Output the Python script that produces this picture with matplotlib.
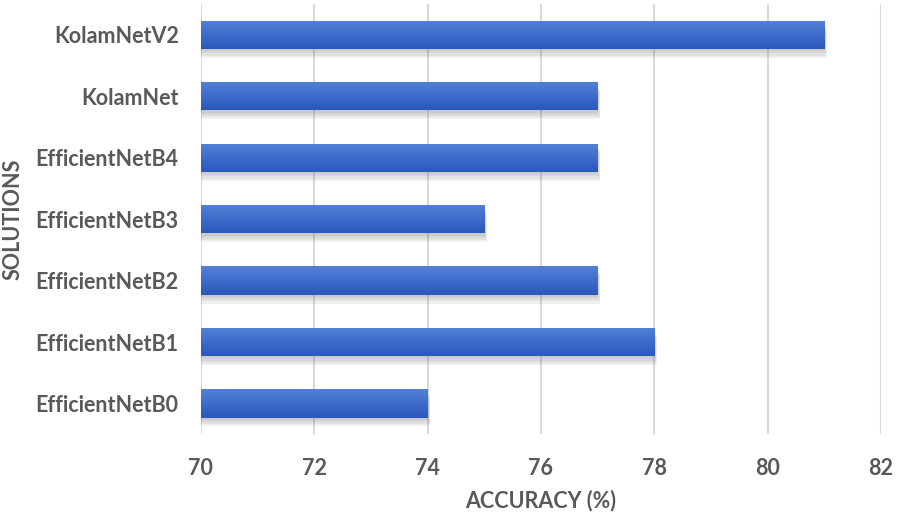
import matplotlib.pyplot as plt
import numpy as np
from matplotlib.colors import LinearSegmentedColormap

solutions = ['EfficientNetB0', 'EfficientNetB1', 'EfficientNetB2', 'EfficientNetB3',
             'EfficientNetB4', 'KolamNet', 'KolamNetV2']
accuracy = [74, 78, 77, 75, 77, 77, 81]
xticks = [70, 72, 74, 76, 78, 80, 82]

grey = '#595959'
plt.rcParams['font.family'] = ['Lato', 'DejaVu Sans']

fig = plt.figure(figsize=(8.97, 5.2), dpi=100)
ax = fig.add_axes([0.224, 0.165, 0.758, 0.827])

ypos = np.arange(len(solutions))
widths = np.array(accuracy) - 70
h = 0.46

# soft shadow: a few stacked translucent grey bars offset down/right
for k, a in enumerate([0.10, 0.10, 0.10, 0.10]):
    d = 0.012 + 0.012 * k
    ax.barh(ypos - d * 3, widths + d, left=70, height=h, color='#707070',
            alpha=a, zorder=2, linewidth=0)
bars = ax.barh(ypos, widths, left=70, height=h, color='#3a67c8',
               zorder=3, linewidth=0)

# vertical gradient inside each bar
grad = np.linspace(0, 1, 100).reshape(-1, 1)
cmap = LinearSegmentedColormap.from_list('b', ['#2a58bb', '#3e6ccb', '#5480d5'])
for b in bars:
    x0, y0 = b.get_x(), b.get_y()
    im = ax.imshow(grad, extent=[x0, x0 + b.get_width(), y0, y0 + b.get_height()],
                   origin='lower', cmap=cmap, aspect='auto', zorder=4)
    im.set_clip_path(b)

ax.set_xlim(70, 82)
ax.set_ylim(-0.5, len(solutions) - 0.5)
ax.set_xticks(xticks)
ax.set_yticks(ypos)
ax.set_yticklabels(solutions)
ax.tick_params(length=0, labelsize=15.5, labelcolor=grey)
ax.tick_params(axis='x', pad=17)
ax.tick_params(axis='y', pad=16)
for lbl in ax.get_xticklabels() + ax.get_yticklabels():
    lbl.set_fontweight('bold')

ax.grid(axis='x', color='#d9d9d9', linewidth=1.5, zorder=0)
ax.set_axisbelow(True)
for s in ax.spines.values():
    s.set_visible(False)

ax.set_xlabel('ACCURACY (%)', fontsize=15.5, fontweight='bold', color=grey, labelpad=8)
ax.set_ylabel('SOLUTIONS', fontsize=15.5, fontweight='bold', color=grey, labelpad=9)

fig.savefig('out.png', dpi=100)
